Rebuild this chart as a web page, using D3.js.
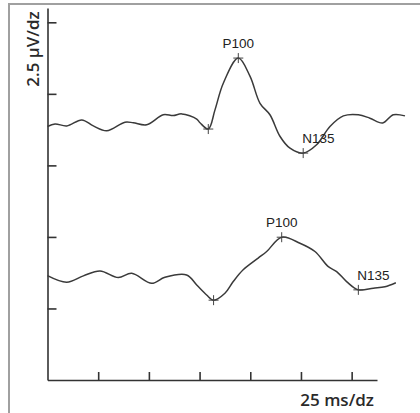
<!DOCTYPE html>
<html>
<head>
<meta charset="utf-8">
<script src="https://cdn.jsdelivr.net/npm/d3@7"></script>
<style>
  body { margin: 0; background: #fff; }
  svg { display: block; }
</style>
</head>
<body>
<script>
// ____________ data (time in ms from axis origin, amplitude in µV)
var topTime = [0, 3.7, 9.5, 16.9, 22.6, 29.2, 38.2, 42.3, 48.9, 57.1, 62.0, 66.2, 73.6, 75.2, 79.3,
  82.6, 86.7, 94.1, 99.9, 104.8, 109.7, 114.7, 119.6, 126.1, 132.7, 139.3, 145.9, 153.3, 159.0, 165.3, 170.5, 176.3]
var topAmp = [8.86, 8.95, 8.88, 9.09, 8.88, 8.71, 9.01, 8.99, 8.92, 9.27, 9.24, 9.30, 9.12, 8.99, 8.77,
  9.44, 10.37, 11.25, 10.61, 9.67, 9.27, 8.51, 8.10, 7.93, 8.22, 8.86, 9.23, 9.27, 9.15, 8.98, 9.27, 9.23]

var bottomTime = [0, 9.5, 17.7, 25.9, 34.9, 41.5, 51.4, 57.9, 68.6, 73.6, 78.5, 81.9, 87.5, 91.6, 96.5,
  103.9, 108.1, 115.5, 124.5, 131.9, 138.5, 142.6, 147.5, 153.3, 160.7, 166.4, 171.8]
var bottomAmp = [3.65, 3.42, 3.64, 3.81, 3.58, 3.73, 3.38, 3.59, 3.67, 3.32, 2.97, 2.79, 3.03, 3.44, 3.85,
  4.26, 4.49, 4.99, 4.78, 4.49, 3.96, 3.79, 3.44, 3.15, 3.21, 3.26, 3.40]

// markers: onset, P100, N135
var markerNames = ['', 'P100', 'N135']
var topMarkers = [[79.3, 8.77], [94.1, 11.25], [126.1, 7.93]]
var bottomMarkers = [[81.9, 2.79], [115.5, 4.99], [153.3, 3.15]]

var yTicks = [2.5, 5, 7.5, 10, 12.5]
var xTicks = [25, 50, 75, 100, 125, 150]

var yLabel = '2.5 µV/dz'
var xLabel = '25 ms/dz'

// ____________ layout
var width = 420, height = 413

var x = d3.scaleLinear().domain([0, 162.5]).range([47.5, 377])
var y = d3.scaleLinear().domain([0, 13]).range([380, 8])

var svg = d3.select('body').append('svg')
  .attr('width', width)
  .attr('height', height)

// frame
svg.append('path')
  .attr('d', 'M9,420 L9,4 L420,4')
  .attr('fill', 'none')
  .attr('stroke', '#a0a0a0')
  .attr('stroke-width', 2)

// y axis
var yAxis = d3.axisRight(y)
  .tickValues(yTicks)
  .tickSize(9)
  .tickFormat('')
  .tickSizeOuter(0)

svg.append('g')
  .attr('class', 'y axis')
  .attr('transform', 'translate(' + x(0) + ',0)')
  .call(yAxis)

// x axis
var xAxis = d3.axisTop(x)
  .tickValues(xTicks)
  .tickSize(8)
  .tickFormat('')
  .tickSizeOuter(0)

svg.append('g')
  .attr('class', 'x axis')
  .attr('transform', 'translate(0,' + y(0) + ')')
  .call(xAxis)

svg.selectAll('.axis path, .axis line')
  .attr('stroke', '#333')
  .attr('stroke-width', 1.6)

// traces
var line = d3.line()
  .x(function (d) { return x(d[0]) })
  .y(function (d) { return y(d[1]) })
  .curve(d3.curveCatmullRom.alpha(0.5))

var traces = [
  { t: topTime, a: topAmp, m: topMarkers },
  { t: bottomTime, a: bottomAmp, m: bottomMarkers }
]

traces.forEach(function (tr) {
  var pts = tr.t.map(function (t, i) { return [t, tr.a[i]] })
  svg.append('path')
    .datum(pts)
    .attr('d', line)
    .attr('fill', 'none')
    .attr('stroke', '#3a3a3a')
    .attr('stroke-width', 1.5)

  var mk = svg.append('g').selectAll('g.marker')
    .data(tr.m)
    .enter()
    .append('g')
      .attr('class', 'marker')
      .attr('transform', function (d) { return 'translate(' + x(d[0]) + ',' + y(d[1]) + ')' })

  mk.append('path')
    .attr('d', 'M-5,0H5M0,-5V5')
    .attr('stroke', '#444')
    .attr('stroke-width', 1)

  mk.append('text')
    .text(function (d, i) { return markerNames[i] })
    .attr('x', function (d, i) { return i == 1 ? 0 : -1 })
    .attr('y', -10)
    .attr('text-anchor', function (d, i) { return i == 1 ? 'middle' : 'start' })
    .style('font-family', 'Liberation Sans, Arial, sans-serif')
    .style('font-size', '13.5px')
    .style('fill', '#222')
})

// axis labels
svg.append('text')
  .text(yLabel)
  .attr('transform', 'translate(39,49) rotate(-90)')
  .attr('text-anchor', 'middle')
  .style('font-family', 'Open Sans, sans-serif')
  .style('font-weight', 600)
  .style('font-size', '17px')
  .style('fill', '#2a2a2a')

svg.append('text')
  .text(xLabel)
  .attr('x', 374)
  .attr('y', 406)
  .attr('text-anchor', 'end')
  .style('font-family', 'Open Sans, sans-serif')
  .style('font-weight', 600)
  .style('font-size', '17px')
  .style('fill', '#2a2a2a')
</script>
</body>
</html>
